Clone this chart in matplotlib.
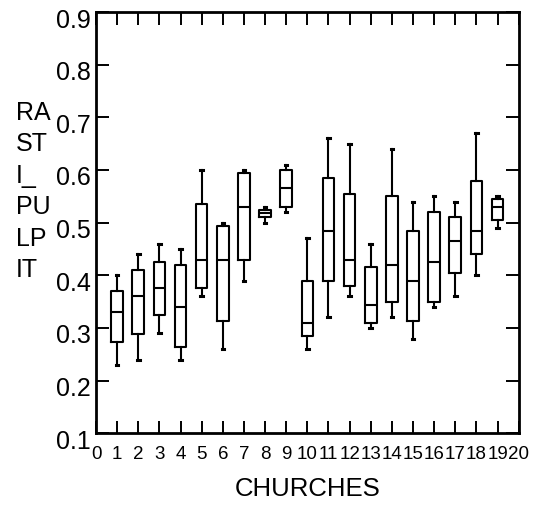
import matplotlib
matplotlib.use("Agg")
import matplotlib.pyplot as plt
from matplotlib.transforms import ScaledTranslation

plt.rcParams['font.family'] = ['Liberation Sans', 'DejaVu Sans']

churches = list(range(1, 20))
whisker_low = [0.23, 0.24, 0.29, 0.24, 0.36, 0.26, 0.39, 0.50, 0.52, 0.26,
               0.32, 0.36, 0.30, 0.32, 0.28, 0.34, 0.36, 0.40, 0.49]
q1 = [0.274, 0.289, 0.324, 0.264, 0.375, 0.314, 0.43, 0.51, 0.53, 0.284,
      0.389, 0.38, 0.309, 0.349, 0.314, 0.349, 0.404, 0.44, 0.505]
median = [0.33, 0.36, 0.375, 0.34, 0.43, 0.43, 0.53, 0.519, 0.565, 0.31,
          0.485, 0.43, 0.344, 0.42, 0.389, 0.425, 0.465, 0.485, 0.53]
q3 = [0.37, 0.41, 0.425, 0.42, 0.535, 0.494, 0.595, 0.524, 0.60, 0.389,
      0.585, 0.555, 0.415, 0.55, 0.485, 0.52, 0.51, 0.58, 0.545]
whisker_high = [0.40, 0.44, 0.46, 0.45, 0.60, 0.50, 0.60, 0.53, 0.61, 0.47,
                0.66, 0.65, 0.46, 0.64, 0.54, 0.55, 0.54, 0.67, 0.55]
x_ticks = list(range(0, 21))
y_ticks = [0.1, 0.2, 0.3, 0.4, 0.5, 0.6, 0.7, 0.8, 0.9]
y_label = "RASTI_PULPIT"
x_label = "CHURCHES"

W, H = 537, 507
fig = plt.figure(figsize=(W / 100, H / 100), dpi=100)
ax = fig.add_axes([96 / W, 1 - 433.3 / H, (518.7 - 96) / W, (433.3 - 12) / H])

stats = []
for c, lo, a, m, b, hi in zip(churches, whisker_low, q1, median, q3, whisker_high):
    stats.append(dict(whislo=lo, q1=a, med=m, q3=b, whishi=hi, fliers=[], label=str(c)))

lw = 1.5
ax.bxp(stats, positions=churches, widths=0.55, showfliers=False,
       capwidths=0.12,
       boxprops=dict(color='black', linewidth=lw),
       whiskerprops=dict(color='black', linewidth=lw),
       capprops=dict(color='black', linewidth=2.2),
       medianprops=dict(color='black', linewidth=lw),
       manage_ticks=False)

ax.set_xlim(0, 20)
ax.set_ylim(0.1, 0.9)
ax.set_xticks(x_ticks)
ax.set_xticklabels([str(t) for t in x_ticks])
ax.set_yticks(y_ticks)
ax.set_yticklabels([f"{t:.1f}" for t in y_ticks])

for s in ax.spines.values():
    s.set_linewidth(2.0)
ax.tick_params(axis='x', direction='in', length=9, width=1.4, top=True,
               labelsize=13.5, pad=9)
ax.tick_params(axis='y', direction='in', length=9.5, width=1.4, right=True,
               labelsize=18, pad=4)

shift = ScaledTranslation(0, -6 / 100, fig.dpi_scale_trans)
for lab in ax.get_yticklabels():
    lab.set_transform(lab.get_transform() + shift)

ax.set_xlabel(x_label, fontsize=18.5, labelpad=10)

wrapped = "\n".join(y_label[i:i + 2] for i in range(0, len(y_label), 2))
fig.text(16 / W, 1 - 101 / H, wrapped, ha='left', va='top', fontsize=18,
         linespacing=1.39)

fig.savefig("out.png", dpi=100)
